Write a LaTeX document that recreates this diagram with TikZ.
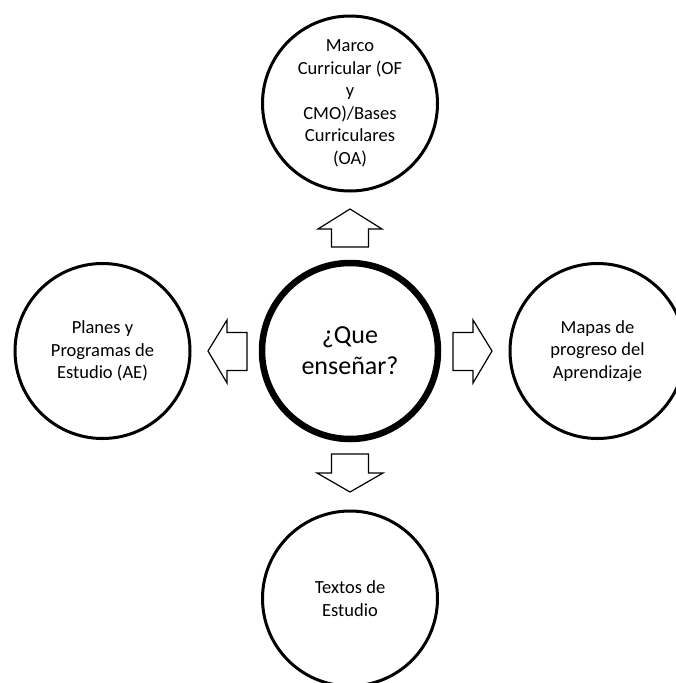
\documentclass[tikz,border=0pt]{standalone}
\usepackage{fontspec}
\setmainfont{Carlito}
\begin{document}
\begin{tikzpicture}[x=1pt,y=-1pt,
  outer/.style={circle,draw=black,line width=3pt,minimum size=175pt,inner sep=0pt,align=center,
    font=\fontsize{18.5}{22.5}\selectfont},
  hub/.style={circle,draw=black,line width=6.5pt,minimum size=176pt,inner sep=0pt,align=center,
    font=\fontsize{26}{31}\selectfont},
  blockarrow/.style={draw=black,line width=1.2pt,fill=white,line join=miter}]
\useasboundingbox (0,0) rectangle (676,683);
\clip (0,0) rectangle (676,683);
\node[hub] (c) at (350,351) {¿Que\\enseñar?};
\node[outer] (t) at (350,103.5) {Marco\\Curricular (OF\\y\\CMO)/Bases\\Curriculares\\(OA)};
\node[outer] (l) at (102.5,351) {Planes y\\Programas de\\Estudio (AE)};
\node[outer] (r) at (597.5,351) {Mapas de\\progreso del\\Aprendizaje};
\node[outer] (b) at (350,598.5) {Textos de\\Estudio};
% block arrows
\coordinate (au) at (350,228);
\coordinate (ad) at (350,473);
\coordinate (al) at (227,351);
\coordinate (ar) at (473,351);
\draw[blockarrow] (au) ++(0,-19) -- ++(32,20) -- ++(-13.5,0) -- ++(0,18) -- ++(-37,0) -- ++(0,-18) -- ++(-13.5,0) -- cycle;
\draw[blockarrow] (ad) ++(0,19) -- ++(33,-19) -- ++(-14.5,0) -- ++(0,-19) -- ++(-37,0) -- ++(0,19) -- ++(-14.5,0) -- cycle;
\draw[blockarrow] (al) ++(-19,0) -- ++(19,-31) -- ++(0,12.5) -- ++(20,0) -- ++(0,38) -- ++(-20,0) -- ++(0,12.5) -- cycle;
\draw[blockarrow] (ar) ++(19,0) -- ++(-19,-31) -- ++(0,12.5) -- ++(-20,0) -- ++(0,38) -- ++(20,0) -- ++(0,12.5) -- cycle;
\end{tikzpicture}
\end{document}
